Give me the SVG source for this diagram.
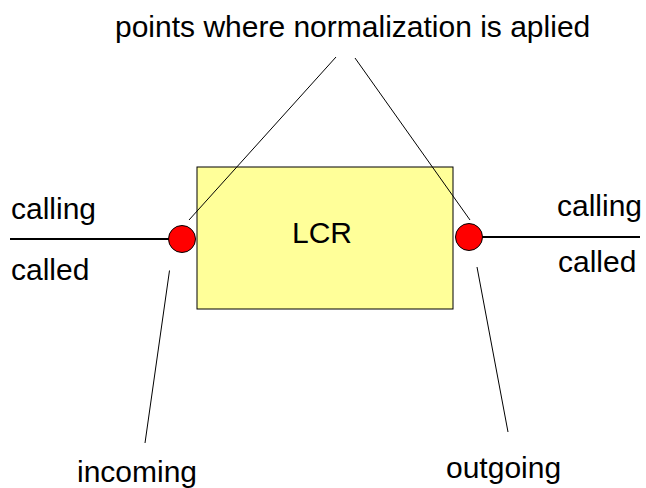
<svg xmlns="http://www.w3.org/2000/svg" width="646" height="488" viewBox="0 0 646 488">
  <style>
    text { font-family: "Liberation Sans", Arial, sans-serif; font-size: 30px; fill: #000; }
    .wire { stroke: #000; stroke-width: 2; fill: none; }
    .thin { stroke: #000; stroke-width: 1; fill: none; }
    .point { fill: #FF0000; stroke: #000; stroke-width: 1; }
  </style>
  <rect width="646" height="488" fill="#FFFFFF"/>
  <g id="lcr">
    <rect x="197" y="167" width="256" height="142" fill="#FFFF99" stroke="#000" stroke-width="1"/>
    <text x="292" y="243">LCR</text>
  </g>
  <g id="connectors">
    <line class="wire" x1="10" y1="239" x2="170" y2="239"/>
    <line class="wire" x1="482" y1="237" x2="640" y2="237"/>
    <line class="thin" x1="336" y1="57" x2="189" y2="220"/>
    <line class="thin" x1="355" y1="58" x2="470" y2="220"/>
    <line class="thin" x1="169.5" y1="270.5" x2="145" y2="443"/>
    <line class="thin" x1="477" y1="267" x2="508" y2="432"/>
  </g>
  <g id="incoming-point">
    <circle class="point" cx="182" cy="239" r="13.5"/>
  </g>
  <g id="outgoing-point">
    <circle class="point" cx="469" cy="237" r="13.5"/>
  </g>
  <g id="labels">
    <text x="115" y="37">points where normalization is aplied</text>
    <text x="11" y="219">calling</text>
    <text x="11" y="280">called</text>
    <text x="557" y="216">calling</text>
    <text x="558" y="272">called</text>
    <text x="77" y="482">incoming</text>
    <text x="446" y="478">outgoing</text>
  </g>
</svg>
